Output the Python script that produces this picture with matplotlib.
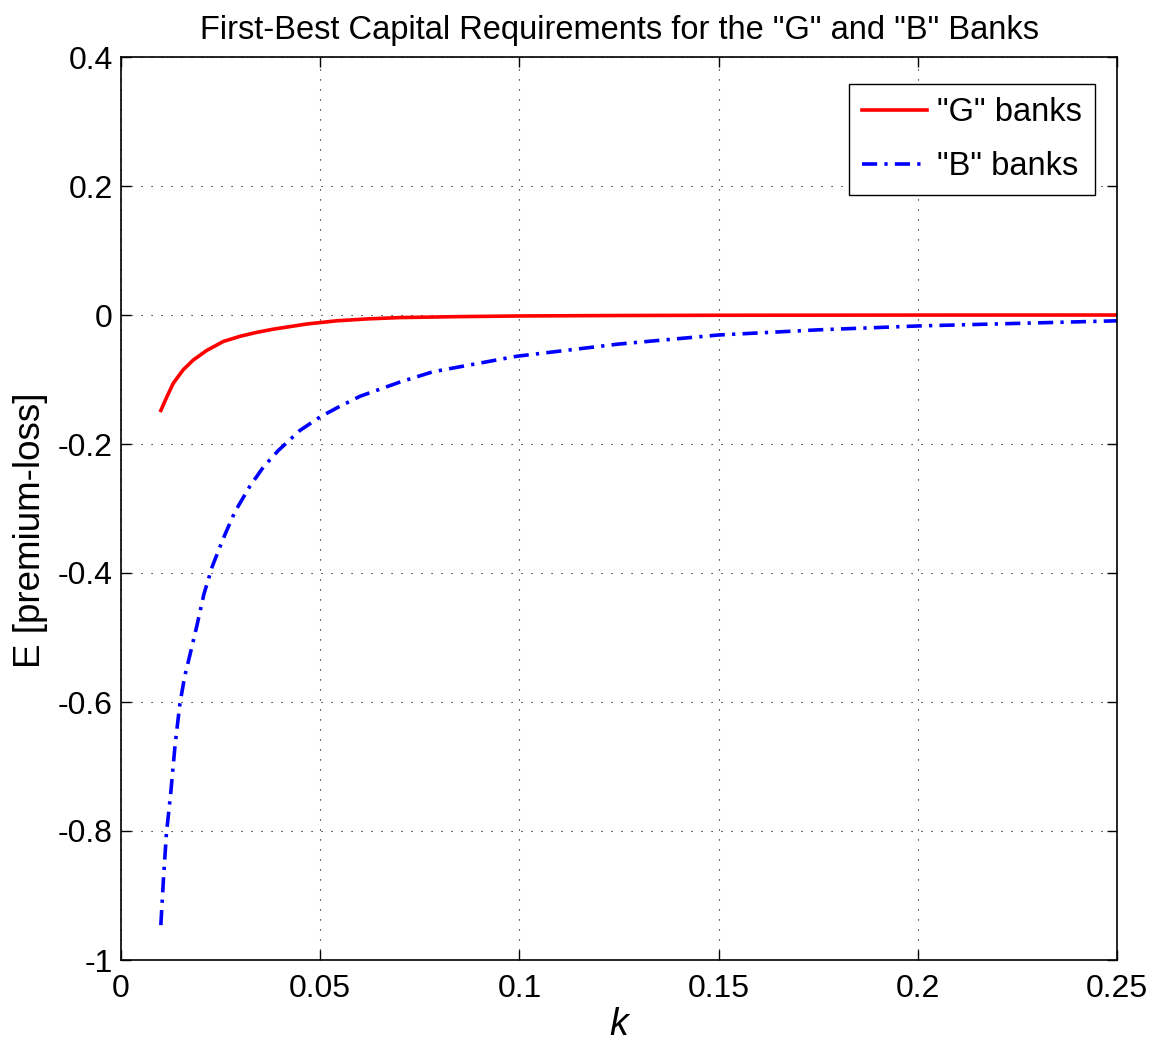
"""
First-best capital requirements, G and B banks
"""
import matplotlib
matplotlib.use("Agg")
import matplotlib.pyplot as plt

# values
k_g = [0.0100, 0.0115, 0.0131, 0.0156, 0.0181, 0.0215, 0.0257, 0.0299, 0.0340,
       0.0382, 0.0466, 0.0541, 0.0620, 0.0700, 0.0850, 0.1000, 0.1250, 0.1500,
       0.2000, 0.2500]
e_g = [-0.148, -0.127, -0.106, -0.085, -0.070, -0.055, -0.041, -0.033, -0.027,
       -0.022, -0.014, -0.009, -0.006, -0.004, -0.0025, -0.0015, -0.0008, -0.0004,
       -0.0001, 0.0]

k_b = [0.0100, 0.0107, 0.0114, 0.0125, 0.0136, 0.0148, 0.0160, 0.0173, 0.0190,
       0.0208, 0.0229, 0.0257, 0.0286, 0.0324, 0.0357, 0.0395, 0.0449, 0.0500,
       0.0545, 0.0600, 0.0700, 0.0783, 0.0993, 0.1250, 0.1500, 0.1750, 0.2000,
       0.2250, 0.2500]
e_b = [-0.946, -0.870, -0.804, -0.740, -0.665, -0.602, -0.560, -0.527, -0.483,
       -0.433, -0.390, -0.346, -0.305, -0.265, -0.236, -0.210, -0.179, -0.158,
       -0.143, -0.126, -0.104, -0.088, -0.064, -0.045, -0.031, -0.023, -0.017,
       -0.013, -0.009]

plt.rcParams['font.family'] = ['Liberation Sans', 'DejaVu Sans']

fig = plt.figure(figsize=(11.63, 10.42), dpi=100)
ax = fig.add_axes([121/1163, 1 - 960/1042, 996/1163, 903/1042])

ax.plot(k_g, e_g, color='#ff0000', lw=2.6, label='"G" banks')
ax.plot(k_b, e_b, color='#0000ff', lw=2.6, linestyle=(0, (4.2, 2.0, 0.9, 2.0)), label='"B" banks')

ax.set_xlim(0, 0.25)
ax.set_ylim(-1, 0.4)
ax.set_xticks([0, 0.05, 0.1, 0.15, 0.2, 0.25])
ax.set_xticklabels(['0', '0.05', '0.1', '0.15', '0.2', '0.25'])
ax.set_yticks([-1, -0.8, -0.6, -0.4, -0.2, 0, 0.2, 0.4])
ax.set_yticklabels(['-1', '-0.8', '-0.6', '-0.4', '-0.2', '0', '0.2', '0.4'])
ax.tick_params(direction='in', length=7, width=1, labelsize=23, top=True, right=True)
ax.tick_params(axis='x', pad=10)
ax.tick_params(axis='y', pad=6)
ax.grid(True, color='black', linestyle=(0, (1, 8)), linewidth=0.8)
for sp in ax.spines.values():
    sp.set_linewidth(1.2)

ax.set_xlabel('k', fontsize=27, style='italic', labelpad=2)
ax.set_ylabel('E [premium-loss]', fontsize=26.5)
ax.yaxis.set_label_coords(-0.073, 0.476)
ax.set_title('First-Best Capital Requirements for the "G" and "B" Banks', fontsize=23.5, pad=13)

leg = ax.legend(loc='upper right', bbox_to_anchor=(0.978, 0.970), borderaxespad=0,
                fontsize=23.5, fancybox=False, edgecolor='black', framealpha=1,
                borderpad=0.4, labelspacing=0.7, handlelength=2.0, handletextpad=0.3)
leg.get_frame().set_linewidth(1.0)

fig.savefig('out.png', dpi=100)
